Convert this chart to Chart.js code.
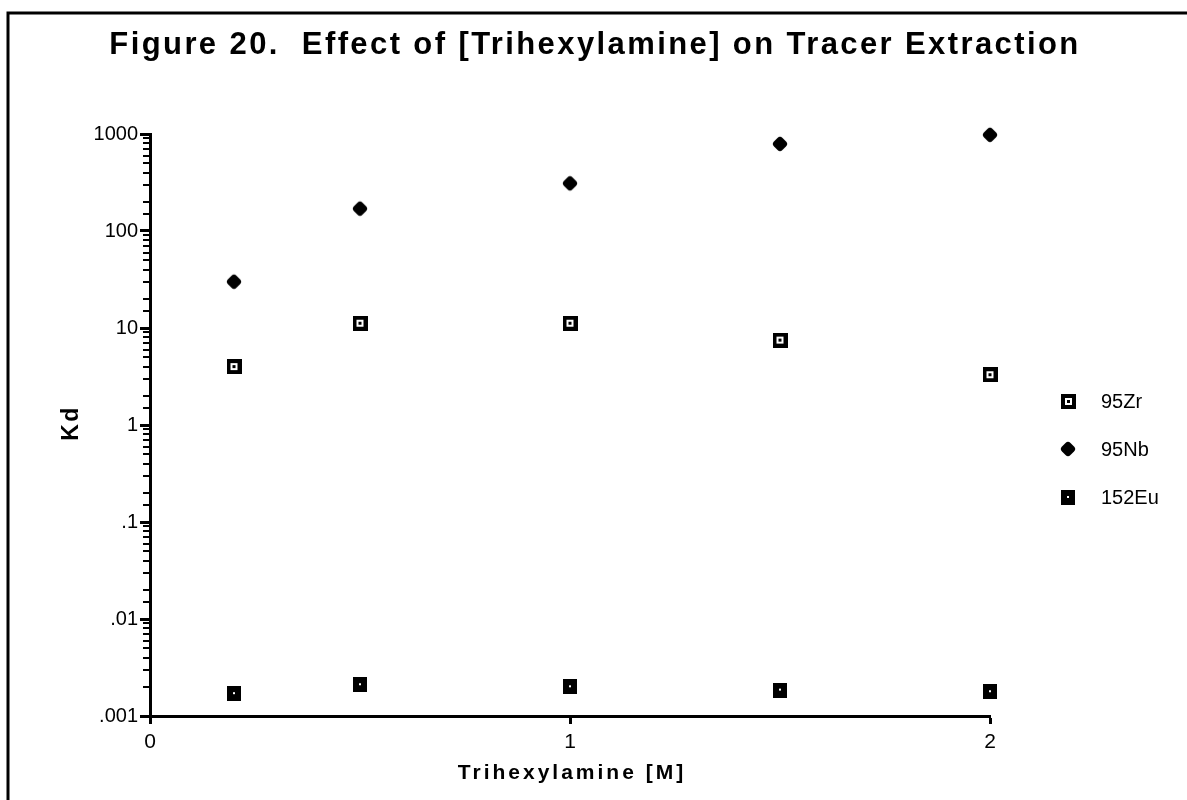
<!DOCTYPE html>
<html>
<head>
<meta charset="utf-8">
<script src="https://cdn.jsdelivr.net/npm/chart.js@4.4.1/dist/chart.umd.min.js"></script>
<style>
  body { margin: 0; background: #fff; }
  canvas { display: block; }
</style>
</head>
<body>
<canvas id="kdChart" width="1187" height="800"></canvas>
<script>
// values
const concentrations = [0.2, 0.5, 1.0, 1.5, 2.0];
const zrKd = [4.0, 11.2, 11.2, 7.5, 3.3];
const nbKd = [30, 170, 310, 790, 980];
const euKd = [0.0017, 0.0021, 0.0020, 0.00185, 0.00178];
const seriesNames = ["95Zr", "95Nb", "152Eu"];
const xTickLabels = ["0", "1", "2"];
const yTickLabels = [".001", ".01", ".1", "1", "10", "100", "1000"];

const titleText = "Figure 20.  Effect of [Trihexylamine] on Tracer Extraction";
const xTitle = "Trihexylamine [M]";
const yTitle = "Kd";
const fontFamily = "'Liberation Sans', Arial, Helvetica, sans-serif";

function makeMarker(w, h, draw) {
  const c = document.createElement("canvas");
  c.width = w;
  c.height = h;
  draw(c.getContext("2d"), w, h);
  return c;
}

const zrMarker = makeMarker(15, 15, (ctx) => {
  ctx.fillStyle = "#000";
  ctx.fillRect(0, 0, 15, 15);
  ctx.fillStyle = "#fff";
  ctx.fillRect(4, 4, 7, 7);
  ctx.fillStyle = "#000";
  ctx.fillRect(6, 6, 3, 3);
});

const nbMarker = makeMarker(18, 18, (ctx) => {
  ctx.fillStyle = "#000";
  ctx.translate(9, 9);
  ctx.rotate(Math.PI / 4);
  ctx.beginPath();
  ctx.roundRect(-6, -6, 12, 12, 3.5);
  ctx.fill();
});

const euMarker = makeMarker(14, 15, (ctx) => {
  ctx.fillStyle = "#000";
  ctx.fillRect(0, 0, 14, 15);
  ctx.fillStyle = "#fff";
  ctx.fillRect(6, 6, 2, 2);
});

const markers = [zrMarker, nbMarker, euMarker];

function toPoints(values) {
  return concentrations.map((c, i) => ({ x: c, y: values[i] }));
}

function isDecade(v) {
  const l = Math.log10(v);
  return Math.abs(l - Math.round(l)) < 1e-6;
}

// frame, titles, minor ticks and legend
const extrasPlugin = {
  id: "extras",
  afterDraw(chart) {
    const ctx = chart.ctx;
    const area = chart.chartArea;
    const yScale = chart.scales.y;

    ctx.save();
    // page frame
    ctx.strokeStyle = "#000";
    ctx.lineWidth = 3;
    ctx.beginPath();
    ctx.moveTo(8, 800);
    ctx.lineTo(8, 13);
    ctx.lineTo(1187, 13);
    ctx.stroke();

    // minor log ticks
    ctx.lineWidth = 2;
    yScale.ticks.forEach((t) => {
      if (isDecade(t.value)) return;
      const py = Math.round(yScale.getPixelForValue(t.value));
      ctx.beginPath();
      ctx.moveTo(area.left - 7, py);
      ctx.lineTo(area.left, py);
      ctx.stroke();
    });

    ctx.fillStyle = "#000";
    ctx.textBaseline = "middle";

    // main title
    ctx.font = "bold 31px " + fontFamily;
    ctx.letterSpacing = "2.4px";
    ctx.textAlign = "center";
    ctx.fillText(titleText, 595, 45);

    // axis titles
    ctx.font = "bold 21px " + fontFamily;
    ctx.letterSpacing = "3px";
    ctx.fillText(xTitle, (area.left + area.right) / 2 + 2, 773);

    ctx.save();
    ctx.translate(72, (area.top + area.bottom) / 2);
    ctx.rotate(-Math.PI / 2);
    ctx.font = "bold 23px " + fontFamily;
    ctx.letterSpacing = "2.5px";
    ctx.fillText(yTitle, 2, 0);
    ctx.restore();

    // legend
    ctx.letterSpacing = "0px";
    ctx.font = "20px " + fontFamily;
    ctx.textAlign = "left";
    const rows = [401, 449, 497];
    chart.data.datasets.forEach((ds, i) => {
      const m = markers[i];
      ctx.drawImage(m, Math.round(1068 - m.width / 2), Math.round(rows[i] - m.height / 2));
      ctx.fillText(ds.label, 1101, rows[i] + 1);
    });
    ctx.restore();
  },
};

const kdChart = new Chart(document.getElementById("kdChart"), {
  type: "scatter",
  data: {
    datasets: [
      { label: seriesNames[0], data: toPoints(zrKd), pointStyle: zrMarker, pointRadius: 8, clip: false },
      { label: seriesNames[1], data: toPoints(nbKd), pointStyle: nbMarker, pointRadius: 8, clip: false },
      { label: seriesNames[2], data: toPoints(euKd), pointStyle: euMarker, pointRadius: 8, clip: false },
    ],
  },
  options: {
    responsive: false,
    devicePixelRatio: 1,
    animation: false,
    layout: { padding: { left: 0, right: 197, top: 134, bottom: 0 } },
    plugins: {
      legend: { display: false },
      title: { display: false },
      tooltip: { enabled: false },
    },
    scales: {
      x: {
        type: "linear",
        min: 0,
        max: 2,
        afterFit: (scale) => { scale.height = 84; },
        border: { display: true, color: "#000", width: 3 },
        grid: { drawOnChartArea: false, color: "#000", tickLength: 8, tickWidth: 3 },
        ticks: {
          stepSize: 1,
          color: "#000",
          padding: 6,
          font: { family: fontFamily, size: 21 },
          callback: (v) => xTickLabels[Math.round(v)] ?? "",
        },
      },
      y: {
        type: "logarithmic",
        min: 0.001,
        max: 1000,
        afterFit: (scale) => { scale.width = 150; },
        border: { display: true, color: "#000", width: 3 },
        grid: {
          drawOnChartArea: false,
          tickLength: 10,
          tickWidth: 3,
          tickColor: (c) => (c.tick && isDecade(c.tick.value) ? "#000" : "rgba(0,0,0,0)"),
        },
        ticks: {
          autoSkip: false,
          color: "#000",
          padding: 2,
          font: { family: fontFamily, size: 20 },
          callback: (v) => (isDecade(v) ? yTickLabels[Math.round(Math.log10(v)) + 3] : ""),
        },
      },
    },
  },
  plugins: [extrasPlugin],
});
</script>
</body>
</html>
